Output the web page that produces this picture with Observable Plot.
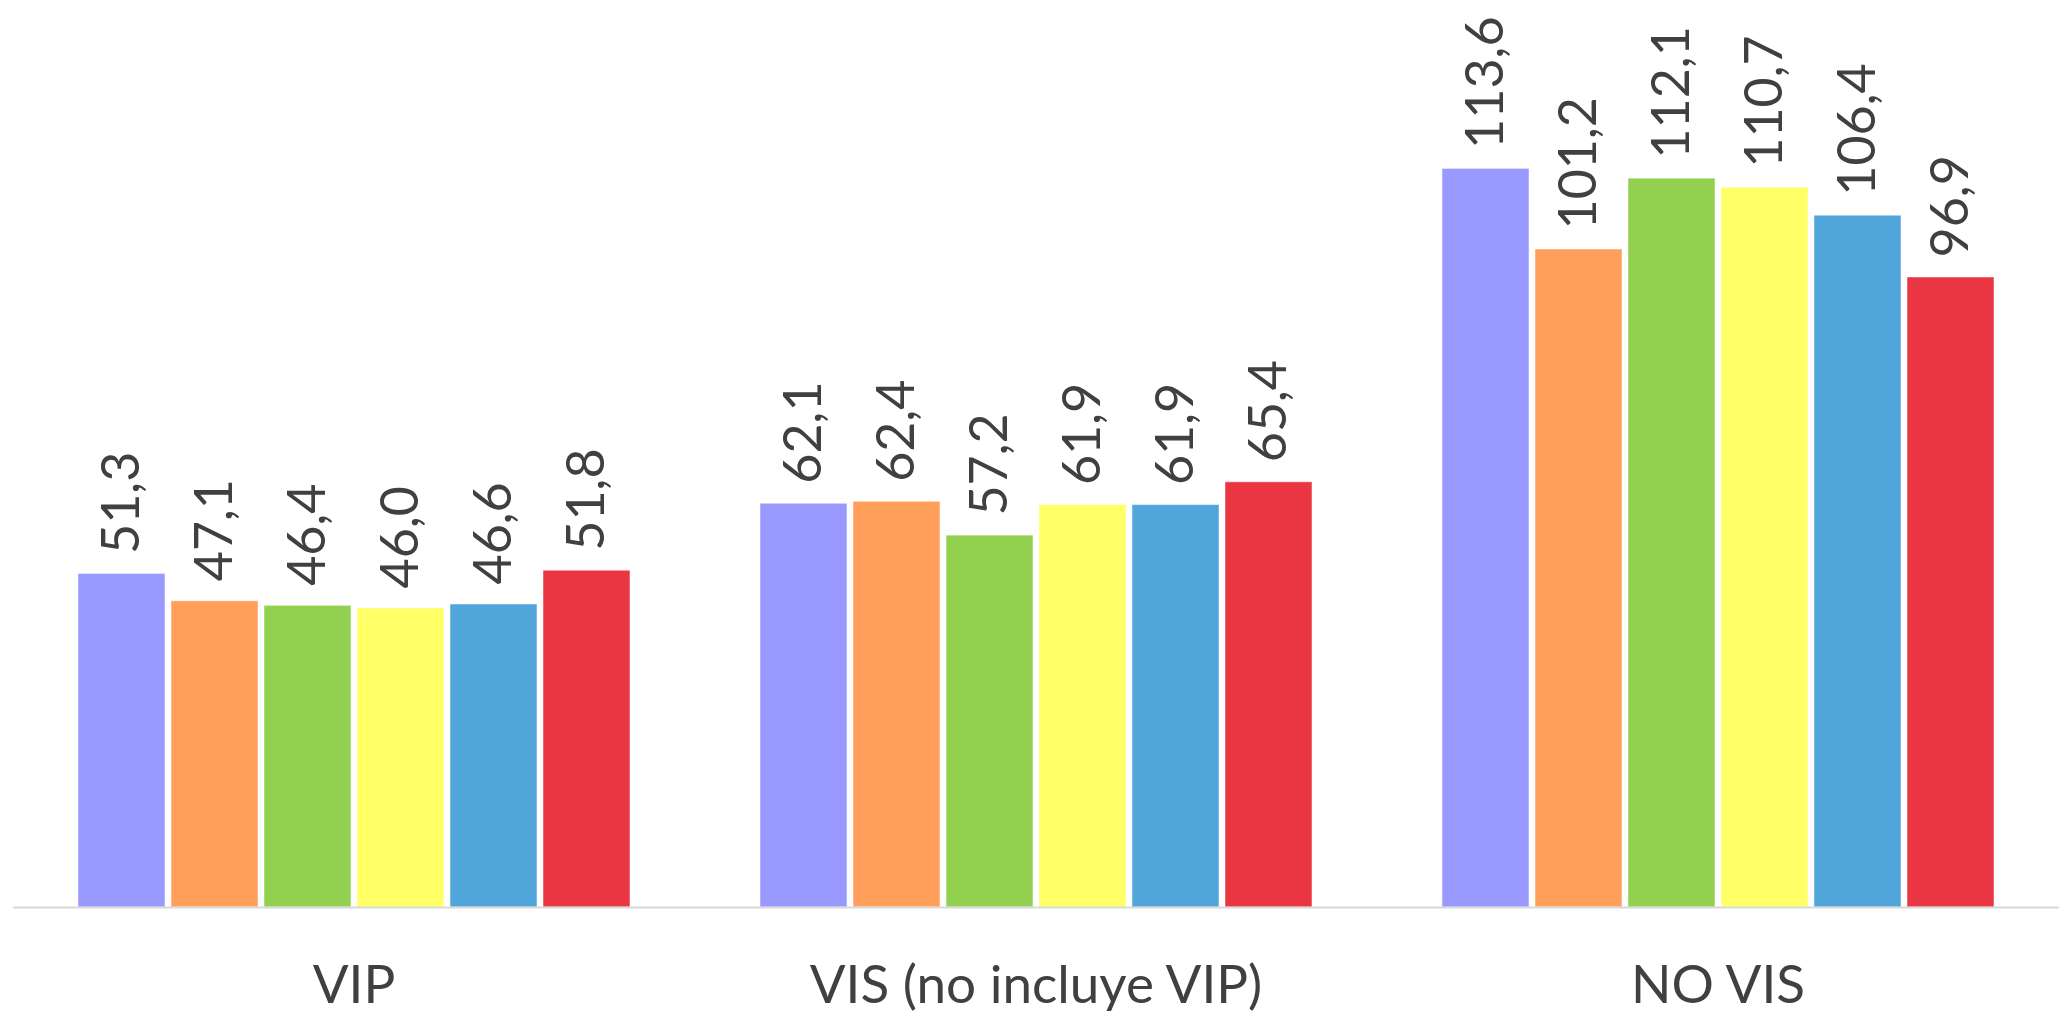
<!DOCTYPE html>
<html>
<head>
<meta charset="utf-8">
<script src="https://cdn.jsdelivr.net/npm/d3@7"></script>
<script src="https://cdn.jsdelivr.net/npm/@observablehq/plot@0.6"></script>
<style>
  html, body { margin: 0; padding: 0; background: #ffffff; }
  #chart { position: relative; width: 2059px; height: 1011px; overflow: hidden; }
  #chart svg { position: absolute; left: 0; top: 0; }
</style>
</head>
<body>
<div id="chart"></div>
<script>
// Categories (groups along the x axis)
const groups = ["VIP", "VIS (no incluye VIP)", "NO VIS"];
// Series (six bars per group, unnamed in the reference)
const series = ["Serie 1", "Serie 2", "Serie 3", "Serie 4", "Serie 5", "Serie 6"];
const seriesColors = ["#9999FF", "#FF9F5B", "#92D050", "#FFFF66", "#50A6DB", "#EA3542"];
// Values per group, in series order
const vipValues = [51.3, 47.1, 46.4, 46.0, 46.6, 51.8];
const visValues = [62.1, 62.4, 57.2, 61.9, 61.9, 65.4];
const noVisValues = [113.6, 101.2, 112.1, 110.7, 106.4, 96.9];

const valuesByGroup = [vipValues, visValues, noVisValues];
const data = groups.flatMap((g, gi) =>
  series.map((s, si) => ({group: g, series: s, value: valuesByGroup[gi][si]}))
);

const fmt = v => v.toFixed(1).replace(".", ",");

const W = 2059, H = 1011;
const margins = {marginLeft: 13, marginRight: 0, marginTop: 0, marginBottom: 104};
const yDomain = [0, 139.5];
const baseStyle = {fontFamily: "Lato, 'Open Sans', sans-serif", fontSize: "53px", color: "#404040", background: "transparent", overflow: "visible"};

// Full-width baseline (category axis line) in its own layer sharing the same y scale
const baseLayer = Plot.plot({
  width: W, height: H, ...margins,
  style: baseStyle,
  x: {domain: [0, 1], axis: null},
  y: {domain: yDomain, axis: null},
  marks: [Plot.ruleY([0], {stroke: "#d9d9d9", strokeWidth: 2})]
});

const chart = Plot.plot({
  width: W, height: H, ...margins,
  style: baseStyle,
  fx: {domain: groups, paddingInner: 0.186, paddingOuter: 0.093, label: null, axis: "bottom", tickSize: 0, tickPadding: 58},
  x: {domain: series, paddingInner: 0.065, paddingOuter: 0, axis: null},
  y: {domain: yDomain, axis: null},
  color: {domain: series, range: seriesColors},
  marks: [
    Plot.barY(data, {
      fx: "group", x: "series", y: "value", fill: "series",
      stroke: "white", strokeOpacity: 0.5, strokeWidth: 1
    }),
    Plot.text(data, {
      fx: "group", x: "series", y: "value",
      text: d => fmt(d.value),
      rotate: -90, textAnchor: "start", lineAnchor: "middle",
      dy: -20, fontSize: 52, fill: "#404040"
    })
  ]
});

const root = document.getElementById("chart");
root.appendChild(chart);
root.appendChild(baseLayer);
</script>
</body>
</html>
